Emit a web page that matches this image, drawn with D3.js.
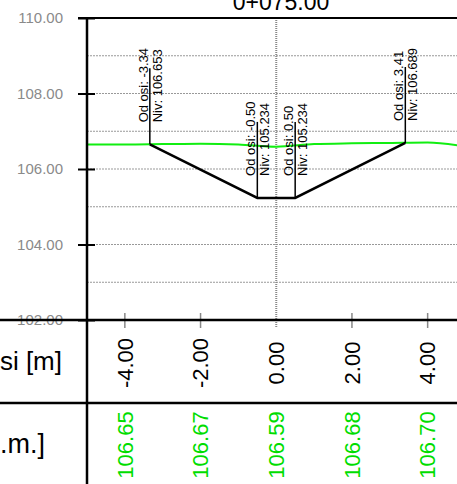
<!DOCTYPE html>
<html>
<head>
<meta charset="utf-8">
<script src="https://cdn.jsdelivr.net/npm/d3@7"></script>
<style>
  html, body { margin: 0; padding: 0; background: #fff; }
  svg { display: block; font-family: "Liberation Sans", Arial, sans-serif; }
</style>
</head>
<body>
<script>
// ---- data ----
const stationTitle = "0+075.00";
const rowLabels = ["Od osi [m]", "Teren [m n.m.]"];
const elevTicks = [102, 104, 106, 108, 110];
const elevGrid = [103, 104, 105, 106, 107, 108, 109];
const offsetTicks = [-4, -2, 0, 2, 4];
const terrainAtTicks = [106.65, 106.67, 106.59, 106.68, 106.70];
const terrainX = [-5, -4, -3, -2, -1, 0, 1, 2, 3, 4, 5];
const terrainZ = [106.65, 106.65, 106.66, 106.67, 106.65, 106.59, 106.66, 106.68, 106.69, 106.70, 106.60];
const designX = [-3.34, -0.50, 0.50, 3.41];
const designZ = [106.653, 105.234, 105.234, 106.689];

// ---- layout ----
const W = 457, H = 484;
const axisX = 87, topY = 18, baseY = 320, rowSep = 403;
const svg = d3.select("body").append("svg").attr("width", W).attr("height", H);

const x = d3.scaleLinear().domain([-5, 5]).range([axisX, axisX + 378.5]);
const y = d3.scaleLinear().domain([102, 110]).range([baseY, topY]);

const green = "#00dd00";

// title
svg.append("text").attr("x", 281).attr("y", 10).attr("text-anchor", "middle")
  .attr("font-size", 23).attr("fill", "#000").text(stationTitle);

// gridlines
svg.append("g").selectAll("line").data(elevGrid).join("line")
  .attr("x1", axisX).attr("x2", W)
  .attr("y1", d => y(d)).attr("y2", d => y(d))
  .attr("stroke", "#999").attr("stroke-width", 1).attr("stroke-dasharray", "2,1");

// y axis labels & ticks
const yAxis = d3.axisLeft(y).tickValues(elevTicks).tickFormat(d => d.toFixed(2))
  .tickSize(0).tickPadding(24);
const gy = svg.append("g").attr("transform", `translate(${axisX},0)`).call(yAxis);
gy.select(".domain").remove();
gy.selectAll("text").attr("font-size", 15).attr("fill", "#8a8a8a")
  .attr("font-family", "Liberation Sans, Arial, sans-serif");
gy.selectAll(".tick").append("line").attr("x1", -9).attr("x2", 8)
  .attr("stroke", "#000").attr("stroke-width", 2);

// center line
svg.append("line").attr("x1", x(0)).attr("x2", x(0)).attr("y1", topY).attr("y2", 328)
  .attr("stroke", "#888").attr("stroke-width", 2).attr("stroke-dasharray", "1,1");

// x ticks
svg.append("g").selectAll("line").data(offsetTicks.filter(d => d !== 0)).join("line")
  .attr("x1", d => x(d)).attr("x2", d => x(d)).attr("y1", 313).attr("y2", 328)
  .attr("stroke", "#888").attr("stroke-width", 1.5);

// terrain line
const terr = terrainX.map((d, i) => [d, terrainZ[i]]);
svg.append("path").datum(terr)
  .attr("d", d3.line().x(d => x(d[0])).y(d => y(d[1])).curve(d3.curveMonotoneX))
  .attr("fill", "none").attr("stroke", "#11ee11").attr("stroke-width", 2);

// design line
const des = designX.map((d, i) => [d, designZ[i]]);
svg.append("path").datum(des)
  .attr("d", d3.line().x(d => x(d[0])).y(d => y(d[1])))
  .attr("fill", "none").attr("stroke", "#000").attr("stroke-width", 2.5)
  .attr("stroke-linejoin", "miter");

// annotations
const ann = svg.append("g").selectAll("g").data(des).join("g");
ann.append("line")
  .attr("x1", d => x(d[0])).attr("x2", d => x(d[0]))
  .attr("y1", d => y(d[1]) - 76).attr("y2", d => y(d[1]))
  .attr("stroke", "#000").attr("stroke-width", 1.5);
ann.append("text")
  .attr("transform", d => `translate(${x(d[0]) - 2},${y(d[1]) - 22}) rotate(-90)`)
  .attr("font-size", 13).text(d => "Od osi: " + d[0].toFixed(2));
ann.append("text")
  .attr("transform", d => `translate(${x(d[0]) + 12},${y(d[1]) - 22}) rotate(-90)`)
  .attr("font-size", 13).text(d => "Niv: " + d[1].toFixed(3));

// frame lines
svg.append("line").attr("x1", 78).attr("x2", W).attr("y1", topY).attr("y2", topY)
  .attr("stroke", "#000").attr("stroke-width", 2);
svg.append("line").attr("x1", 0).attr("x2", W).attr("y1", baseY).attr("y2", baseY)
  .attr("stroke", "#000").attr("stroke-width", 2.5);
svg.append("line").attr("x1", 0).attr("x2", W).attr("y1", rowSep).attr("y2", rowSep)
  .attr("stroke", "#000").attr("stroke-width", 2.5);
svg.append("line").attr("x1", axisX).attr("x2", axisX).attr("y1", topY).attr("y2", H)
  .attr("stroke", "#000").attr("stroke-width", 2.5);

// table row labels
svg.append("text").attr("x", 62).attr("y", 370).attr("text-anchor", "end")
  .attr("font-size", 26).text(rowLabels[0]);
svg.append("text").attr("x", 45).attr("y", 453).attr("text-anchor", "end")
  .attr("font-size", 27).text(rowLabels[1]);

// table row 1: offsets
svg.append("g").selectAll("text").data(offsetTicks).join("text")
  .attr("transform", d => `translate(${x(d)},363) rotate(-90)`)
  .attr("text-anchor", "middle").attr("dy", "0.35em")
  .attr("font-size", 22).attr("fill", "#000").text(d => d.toFixed(2));

// table row 2: terrain values
svg.append("g").selectAll("text").data(offsetTicks).join("text")
  .attr("transform", d => `translate(${x(d)},445) rotate(-90)`)
  .attr("text-anchor", "middle").attr("dy", "0.35em")
  .attr("font-size", 22).attr("fill", green).text((d, i) => terrainAtTicks[i].toFixed(2));
</script>
</body>
</html>
